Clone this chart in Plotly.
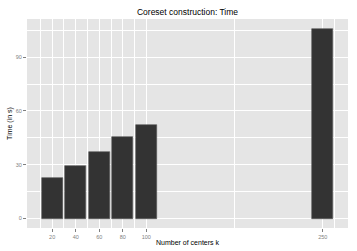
import plotly.graph_objects as go

centers = [20, 40, 60, 80, 100, 250]
times = [22.7, 29.2, 37.0, 45.6, 52.1, 106.0]
x_ticks = [20, 40, 60, 80, 100, 250]
x_minor = [10, 30, 50, 70, 90, 175, 260]
y_ticks = [0, 30, 60, 90]
y_minor = [15, 45, 75, 105]

fig = go.Figure(go.Bar(
    x=centers, y=times, width=18,
    marker=dict(color="#333333", line=dict(color="#555555", width=0.6)),
))

font = "Liberation Sans, Arial, sans-serif"
fig.update_layout(
    width=357, height=251,
    margin=dict(l=27, r=9, t=19, b=23),
    paper_bgcolor="white", plot_bgcolor="#E5E5E5",
    showlegend=False,
    font=dict(family=font, color="black"),
    title=dict(text="Coreset construction: Time", x=0.5, xref="paper",
               xanchor="center", y=1 - 12.5 / 251, yref="container",
               yanchor="middle", font=dict(size=8.5, color="black")),
    bargap=0,
)
fig.update_xaxes(
    range=[-1.4, 271.4], tickmode="array", tickvals=x_ticks,
    ticktext=[str(v) for v in x_ticks],
    showgrid=True, gridcolor="white", gridwidth=1, zeroline=False,
    ticks="outside", ticklen=3, tickcolor="#7f7f7f", tickwidth=0.6,
    tickfont=dict(size=5.5, color="#7f7f7f"),
    minor=dict(tickmode="array", tickvals=x_minor, showgrid=True,
               gridcolor="white", gridwidth=0.5, ticklen=0),
    title=dict(text="Number of centers k", font=dict(size=7, color="#000000"),
               standoff=1),
    showline=False, automargin=False,
)
fig.update_yaxes(
    range=[-5.3, 111.3], tickmode="array", tickvals=y_ticks,
    ticktext=[str(v) for v in y_ticks],
    showgrid=True, gridcolor="white", gridwidth=1, zeroline=False,
    ticks="outside", ticklen=3, tickcolor="#7f7f7f", tickwidth=0.6,
    tickfont=dict(size=5.5, color="#7f7f7f"),
    minor=dict(tickmode="array", tickvals=y_minor, showgrid=True,
               gridcolor="white", gridwidth=0.5, ticklen=0),
    title=dict(text="Time (in s)", font=dict(size=7, color="#000000"),
               standoff=2),
    showline=False, automargin=False,
)
fig.write_html("out.html", config={"displayModeBar": False},
               post_script="document.body.style.margin='0';document.body.style.padding='0';")
